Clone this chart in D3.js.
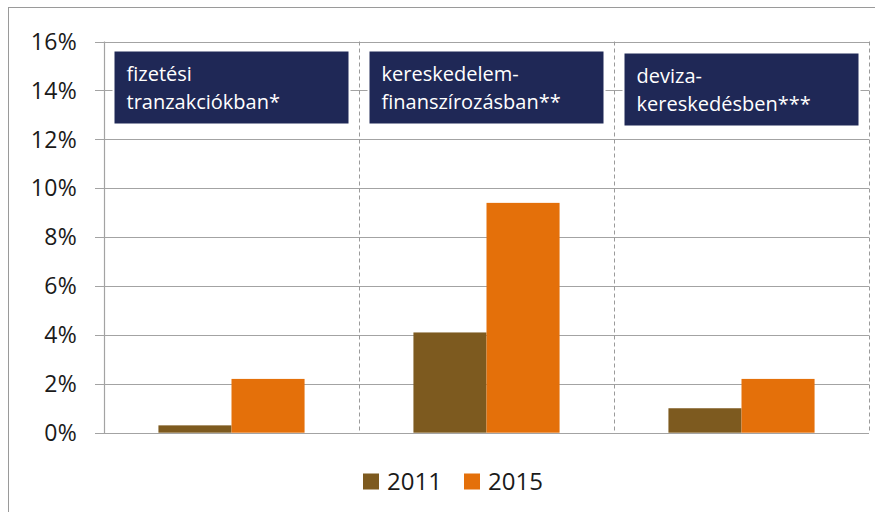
<!DOCTYPE html>
<html>
<head>
<meta charset="utf-8">
<script src="https://cdn.jsdelivr.net/npm/d3@7"></script>
<style>
  html, body { margin: 0; padding: 0; background: #fff; }
  svg { display: block; font-family: "Open Sans", sans-serif; }
</style>
</head>
<body>
<svg id="chart" width="875" height="512"></svg>
<script>
// ---- data ----
const categories = ["fizetési tranzakciókban*", "kereskedelem-finanszírozásban**", "deviza-kereskedésben***"];
const categoryLines = [["fizetési", "tranzakciókban*"], ["kereskedelem-", "finanszírozásban**"], ["deviza-", "kereskedésben***"]];
const seriesNames = ["2011", "2015"];
const values2011 = [0.3, 4.1, 1.0];
const values2015 = [2.2, 9.4, 2.2];
const yTicks = [0, 2, 4, 6, 8, 10, 12, 14, 16];
const colors = ["#7d5a1f", "#e4700a"];

const seriesValues = [values2011, values2015];

const svg = d3.select("#chart");
const W = 875, H = 512;
const plot = { left: 104, right: 869, top: 41.5, bottom: 432.7 };

// outer frame
svg.append("rect")
  .attr("x", 8.5).attr("y", 7.5)
  .attr("width", W).attr("height", H)
  .attr("fill", "none").attr("stroke", "#9a9a9a").attr("stroke-width", 1);

const y = d3.scaleLinear().domain([0, 16]).range([plot.bottom, plot.top]);
const x = d3.scaleBand().domain(categories).range([plot.left, plot.right]).paddingInner(0).paddingOuter(0);
const xs = d3.scaleBand().domain(seriesNames).range([0, x.bandwidth()]).paddingInner(0).paddingOuter(0.745);

// gridlines
svg.append("g").selectAll("line").data(yTicks).join("line")
  .attr("x1", plot.left - 9).attr("x2", plot.right)
  .attr("y1", d => Math.round(y(d)) + 0.5).attr("y2", d => Math.round(y(d)) + 0.5)
  .attr("stroke", "#a3a3a3").attr("stroke-width", 1.2);

// y tick labels
svg.append("g").selectAll("text").data(yTicks).join("text")
  .attr("x", 77).attr("y", d => y(d))
  .attr("dy", "0.36em")
  .attr("text-anchor", "end")
  .attr("font-size", 23)
  .attr("letter-spacing", 0.3)
  .attr("fill", "#1a1a1a")
  .text(d => d + "%");

// category separators (dashed)
const sepX = categories.map(c => x(c) + x.bandwidth());
svg.append("g").selectAll("line").data(sepX).join("line")
  .attr("x1", d => Math.round(d) + 0.5).attr("x2", d => Math.round(d) + 0.5)
  .attr("y1", plot.top).attr("y2", plot.bottom)
  .attr("stroke", "#9a9a9a").attr("stroke-width", 1)
  .attr("stroke-dasharray", "4,3");

// y axis line
svg.append("line")
  .attr("x1", plot.left + 0.5).attr("x2", plot.left + 0.5)
  .attr("y1", plot.top).attr("y2", plot.bottom + 1)
  .attr("stroke", "#a3a3a3").attr("stroke-width", 1.2);

// bars
const barData = [];
categories.forEach((c, i) => seriesNames.forEach((s, j) => barData.push({ c, s, j, v: seriesValues[j][i] })));
svg.append("g").selectAll("rect").data(barData).join("rect")
  .attr("x", d => x(d.c) + xs(d.s))
  .attr("width", xs.bandwidth())
  .attr("y", d => y(d.v))
  .attr("height", d => y(0) - y(d.v))
  .attr("fill", d => colors[d.j]);

// category label boxes
const boxG = svg.append("g").selectAll("g").data(categories).join("g")
  .attr("transform", (c, i) => `translate(${x(c) + 9.5},${i === 2 ? 52.5 : 50.5})`);
boxG.append("rect")
  .attr("width", x.bandwidth() - 19).attr("height", 74)
  .attr("fill", "#1f2856")
  .attr("stroke", "#ffffff").attr("stroke-width", 2);
boxG.each(function (c, i) {
  const g = d3.select(this);
  categoryLines[i].forEach((line, k) => {
    g.append("text")
      .attr("x", 13).attr("y", 30 + k * 28.5)
      .attr("font-size", 20)
      .attr("fill", "#ffffff")
      .text(line);
  });
});

// legend
const legend = svg.append("g").selectAll("g").data(seriesNames).join("g")
  .attr("transform", (s, i) => `translate(${363 + i * 101},0)`);
legend.append("rect")
  .attr("x", 0).attr("y", 473.5).attr("width", 16).attr("height", 16)
  .attr("fill", (s, i) => colors[i]);
legend.append("text")
  .attr("x", 24).attr("y", 490)
  .attr("font-size", 24)
  .attr("fill", "#1a1a1a")
  .text(s => s);
</script>
</body>
</html>
